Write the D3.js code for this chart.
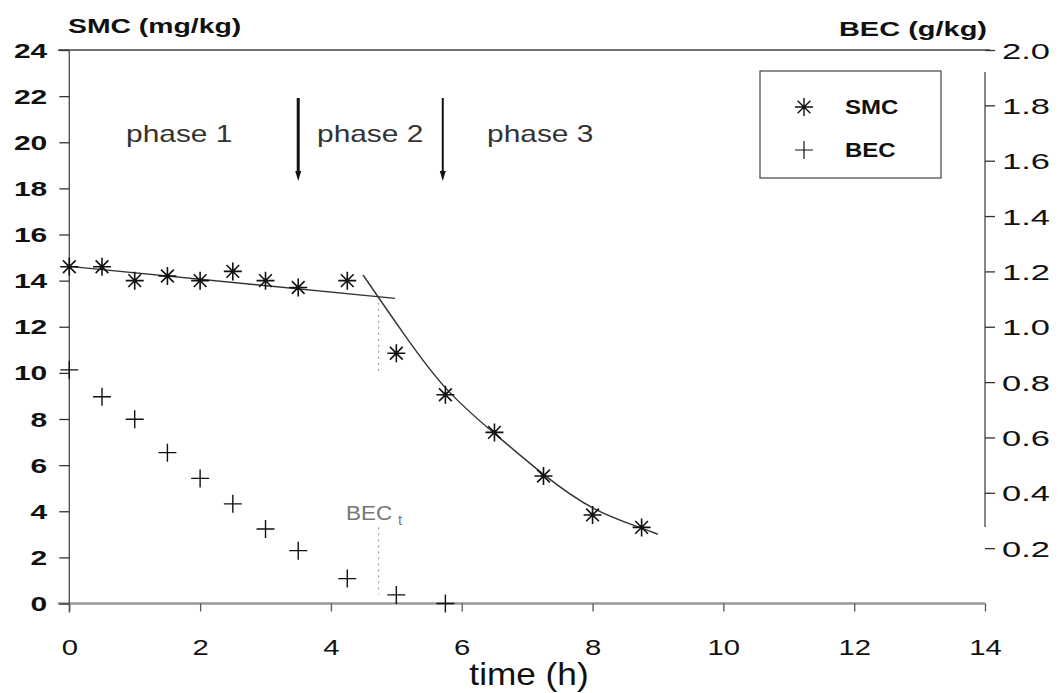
<!DOCTYPE html>
<html><head><meta charset="utf-8">
<script src="https://cdn.jsdelivr.net/npm/d3@7"></script>
<style>
body{margin:0;background:#fff}
svg{display:block}
text{font-family:"Liberation Sans",Arial,Helvetica,sans-serif;fill:#111}
</style>
</head><body>
<svg id="c" width="1063" height="693"></svg>
<script>
// ---- data ----
const smcTime  = [0, 0.5, 1, 1.5, 2, 2.5, 3, 3.5, 4.25, 5, 5.75, 6.5, 7.25, 8, 8.75];
const smcValue = [14.6, 14.6, 14.0, 14.2, 14.0, 14.4, 14.0, 13.7, 14.0, 10.85, 9.05, 7.42, 5.53, 3.84, 3.3];
const becTime  = [0, 0.5, 1, 1.5, 2, 2.5, 3, 3.5, 4.25, 5, 5.75];
const becValue = [0.844, 0.747, 0.666, 0.545, 0.452, 0.360, 0.269, 0.191, 0.090, 0.031, 0.0];
const phase1FitTime  = [0, 4.98];
const phase1FitValue = [14.62, 13.23];
const phase3FitTime  = [4.49, 4.72, 5.06, 5.74, 6.49, 7.25, 8.01, 8.76, 9.0];
const phase3FitValue = [14.25, 13.30, 11.9, 9.2, 7.40, 5.55, 4.0, 3.27, 3.0];
const xTicks     = [0, 2, 4, 6, 8, 10, 12, 14];
const leftTicks  = [0, 2, 4, 6, 8, 10, 12, 14, 16, 18, 20, 22, 24];
const rightTicks = [0.2, 0.4, 0.6, 0.8, 1.0, 1.2, 1.4, 1.6, 1.8, 2.0];
const phaseBounds    = [3.5, 5.71];
const phaseLabels    = ["phase 1", "phase 2", "phase 3"];
const phaseLabelTime = [1.68, 4.6, 7.2];
const becThresholdTime = 4.73;
const legendLabels = ["SMC", "BEC"];

// ---- scales ----
const x  = d3.scaleLinear().domain([0, 14]).range([69.3, 985]);
const y  = d3.scaleLinear().domain([0, 24]).range([603.5, 50]);
const yR = d3.scaleLinear().domain([0, 2]).range([603.5, 50]);

const svg = d3.select("#c");
svg.append("rect").attr("width", 1063).attr("height", 693).attr("fill", "#fff");

function stext(px, py, sx, str, size, weight, anchor, fill) {
  return svg.append("text")
    .attr("transform", `translate(${px},${py}) scale(${sx},1)`)
    .attr("font-size", size).attr("font-weight", weight || "normal")
    .attr("text-anchor", anchor || "start")
    .style("fill", fill || "#111")
    .text(str);
}

// frame lines
svg.append("line").attr("x1", 58).attr("x2", 990).attr("y1", y(24)).attr("y2", y(24))
  .attr("stroke", "#444").attr("stroke-width", 1.6);
svg.append("line").attr("x1", 58).attr("x2", 985).attr("y1", y(0)).attr("y2", y(0))
  .attr("stroke", "#999").attr("stroke-width", 2.6);
svg.append("line").attr("x1", x(0)).attr("x2", x(0)).attr("y1", y(24)).attr("y2", y(0) + 9)
  .attr("stroke", "#555").attr("stroke-width", 1.4);
svg.append("line").attr("x1", x(14)).attr("x2", x(14)).attr("y1", 72).attr("y2", 527)
  .attr("stroke", "#555").attr("stroke-width", 1.4);

// left axis
const gL = svg.append("g").attr("transform", `translate(${x(0)},0)`)
  .call(d3.axisLeft(y).tickValues(leftTicks).tickSize(10).tickSizeOuter(0));
gL.select(".domain").remove();
gL.selectAll("line").attr("stroke", "#333").attr("stroke-width", 1.3);
gL.selectAll("text").attr("x", null).attr("dy", null)
  .attr("transform", "translate(-22,7) scale(1.5,1)")
  .attr("font-size", 20).attr("font-weight", "bold")
  .attr("font-family", "Liberation Sans, Arial, sans-serif").style("fill", "#111");

// right axis
const gR = svg.append("g").attr("transform", `translate(${x(14)},0)`)
  .call(d3.axisRight(yR).tickValues(rightTicks).tickSize(10).tickSizeOuter(0).tickFormat(d3.format(".1f")));
gR.select(".domain").remove();
gR.selectAll("line").attr("stroke", "#333").attr("stroke-width", 1.3);
gR.selectAll("text").attr("x", null).attr("dy", null)
  .attr("transform", "translate(17,8) scale(1.5,1)")
  .attr("font-size", 23).attr("font-weight", "normal")
  .attr("font-family", "Liberation Sans, Arial, sans-serif").style("fill", "#111");

// bottom axis
const gB = svg.append("g").attr("transform", `translate(0,${y(0)})`)
  .call(d3.axisBottom(x).tickValues(xTicks).tickSize(8).tickSizeOuter(0));
gB.select(".domain").remove();
gB.selectAll("line").attr("stroke", "#555").attr("stroke-width", 1.3);
gB.selectAll("text").attr("y", null).attr("dy", null)
  .attr("transform", "translate(0,51) scale(1.33,1)")
  .attr("font-size", 22).attr("font-weight", "normal")
  .attr("font-family", "Liberation Sans, Arial, sans-serif").style("fill", "#111");

// axis titles
stext(68, 33, 1.35, "SMC (mg/kg)", 21, "bold");
stext(987, 36, 1.38, "BEC (g/kg)", 21, "bold", "end");
stext(529, 685, 1.1, "time (h)", 32, "normal", "middle");

// phase arrows & labels
phaseBounds.forEach((t, i) => {
  const px = x(t), w = i === 0 ? 3 : 2;
  svg.append("line").attr("x1", px).attr("x2", px).attr("y1", 98).attr("y2", 172)
    .attr("stroke", "#111").attr("stroke-width", w);
  svg.append("path").attr("d", `M${px - 3},171 L${px + 3},171 L${px},181 Z`).attr("fill", "#111");
});
phaseLabels.forEach((s, i) => stext(x(phaseLabelTime[i]), 142, 1.3, s, 23, "normal", "middle", "#333"));

// BEC threshold dotted line + label
const dotted = [[13.3, 10.0], [3.3, 0.4]];
dotted.forEach(([a, b]) => {
  svg.append("line").attr("x1", x(becThresholdTime)).attr("x2", x(becThresholdTime))
    .attr("y1", y(a)).attr("y2", y(b))
    .attr("stroke", "#888").attr("stroke-width", 1).attr("stroke-dasharray", "2,4");
});
stext(346, 520, 1.07, "BEC", 21, "normal", "start", "#777");
stext(398, 525, 1.0, "t", 15, "normal", "start", "#777");

// fit lines
const line = d3.line().x(d => x(d[0])).y(d => y(d[1]));
svg.append("path").attr("d", line(phase1FitTime.map((t, i) => [t, phase1FitValue[i]])))
  .attr("fill", "none").attr("stroke", "#333").attr("stroke-width", 1.4);
svg.append("path").attr("d", line.curve(d3.curveBasis)(phase3FitTime.map((t, i) => [t, phase3FitValue[i]])))
  .attr("fill", "none").attr("stroke", "#333").attr("stroke-width", 1.4);

// markers
const r = 9, q = r * 0.707;
const starPath = `M${-r},0H${r}M0,${-r}V${r}M${-q},${-q}L${q},${q}M${-q},${q}L${q},${-q}`;
const plusPath = `M${-r},0H${r}M0,${-r}V${r}`;
svg.append("g").selectAll("path").data(smcTime.map((t, i) => [t, smcValue[i]])).join("path")
  .attr("d", starPath).attr("transform", d => `translate(${x(d[0])},${y(d[1])})`)
  .attr("stroke", "#111").attr("stroke-width", 1.6).attr("fill", "none");
svg.append("g").selectAll("path").data(becTime.map((t, i) => [t, becValue[i]])).join("path")
  .attr("d", plusPath).attr("transform", d => `translate(${x(d[0])},${yR(d[1])})`)
  .attr("stroke", "#111").attr("stroke-width", 1.4).attr("fill", "none");

// legend
svg.append("rect").attr("x", 760).attr("y", 71).attr("width", 181).attr("height", 107)
  .attr("fill", "none").attr("stroke", "#444").attr("stroke-width", 1.2);
[starPath, plusPath].forEach((p, i) => {
  const ly = 107 + i * 43;
  svg.append("path").attr("d", p).attr("transform", `translate(804,${ly})`)
    .attr("stroke", "#111").attr("stroke-width", i ? 1.2 : 1.4).attr("fill", "none");
  stext(845, ly + 7, 1.2, legendLabels[i], 20, "bold");
});
</script>
</body></html>
